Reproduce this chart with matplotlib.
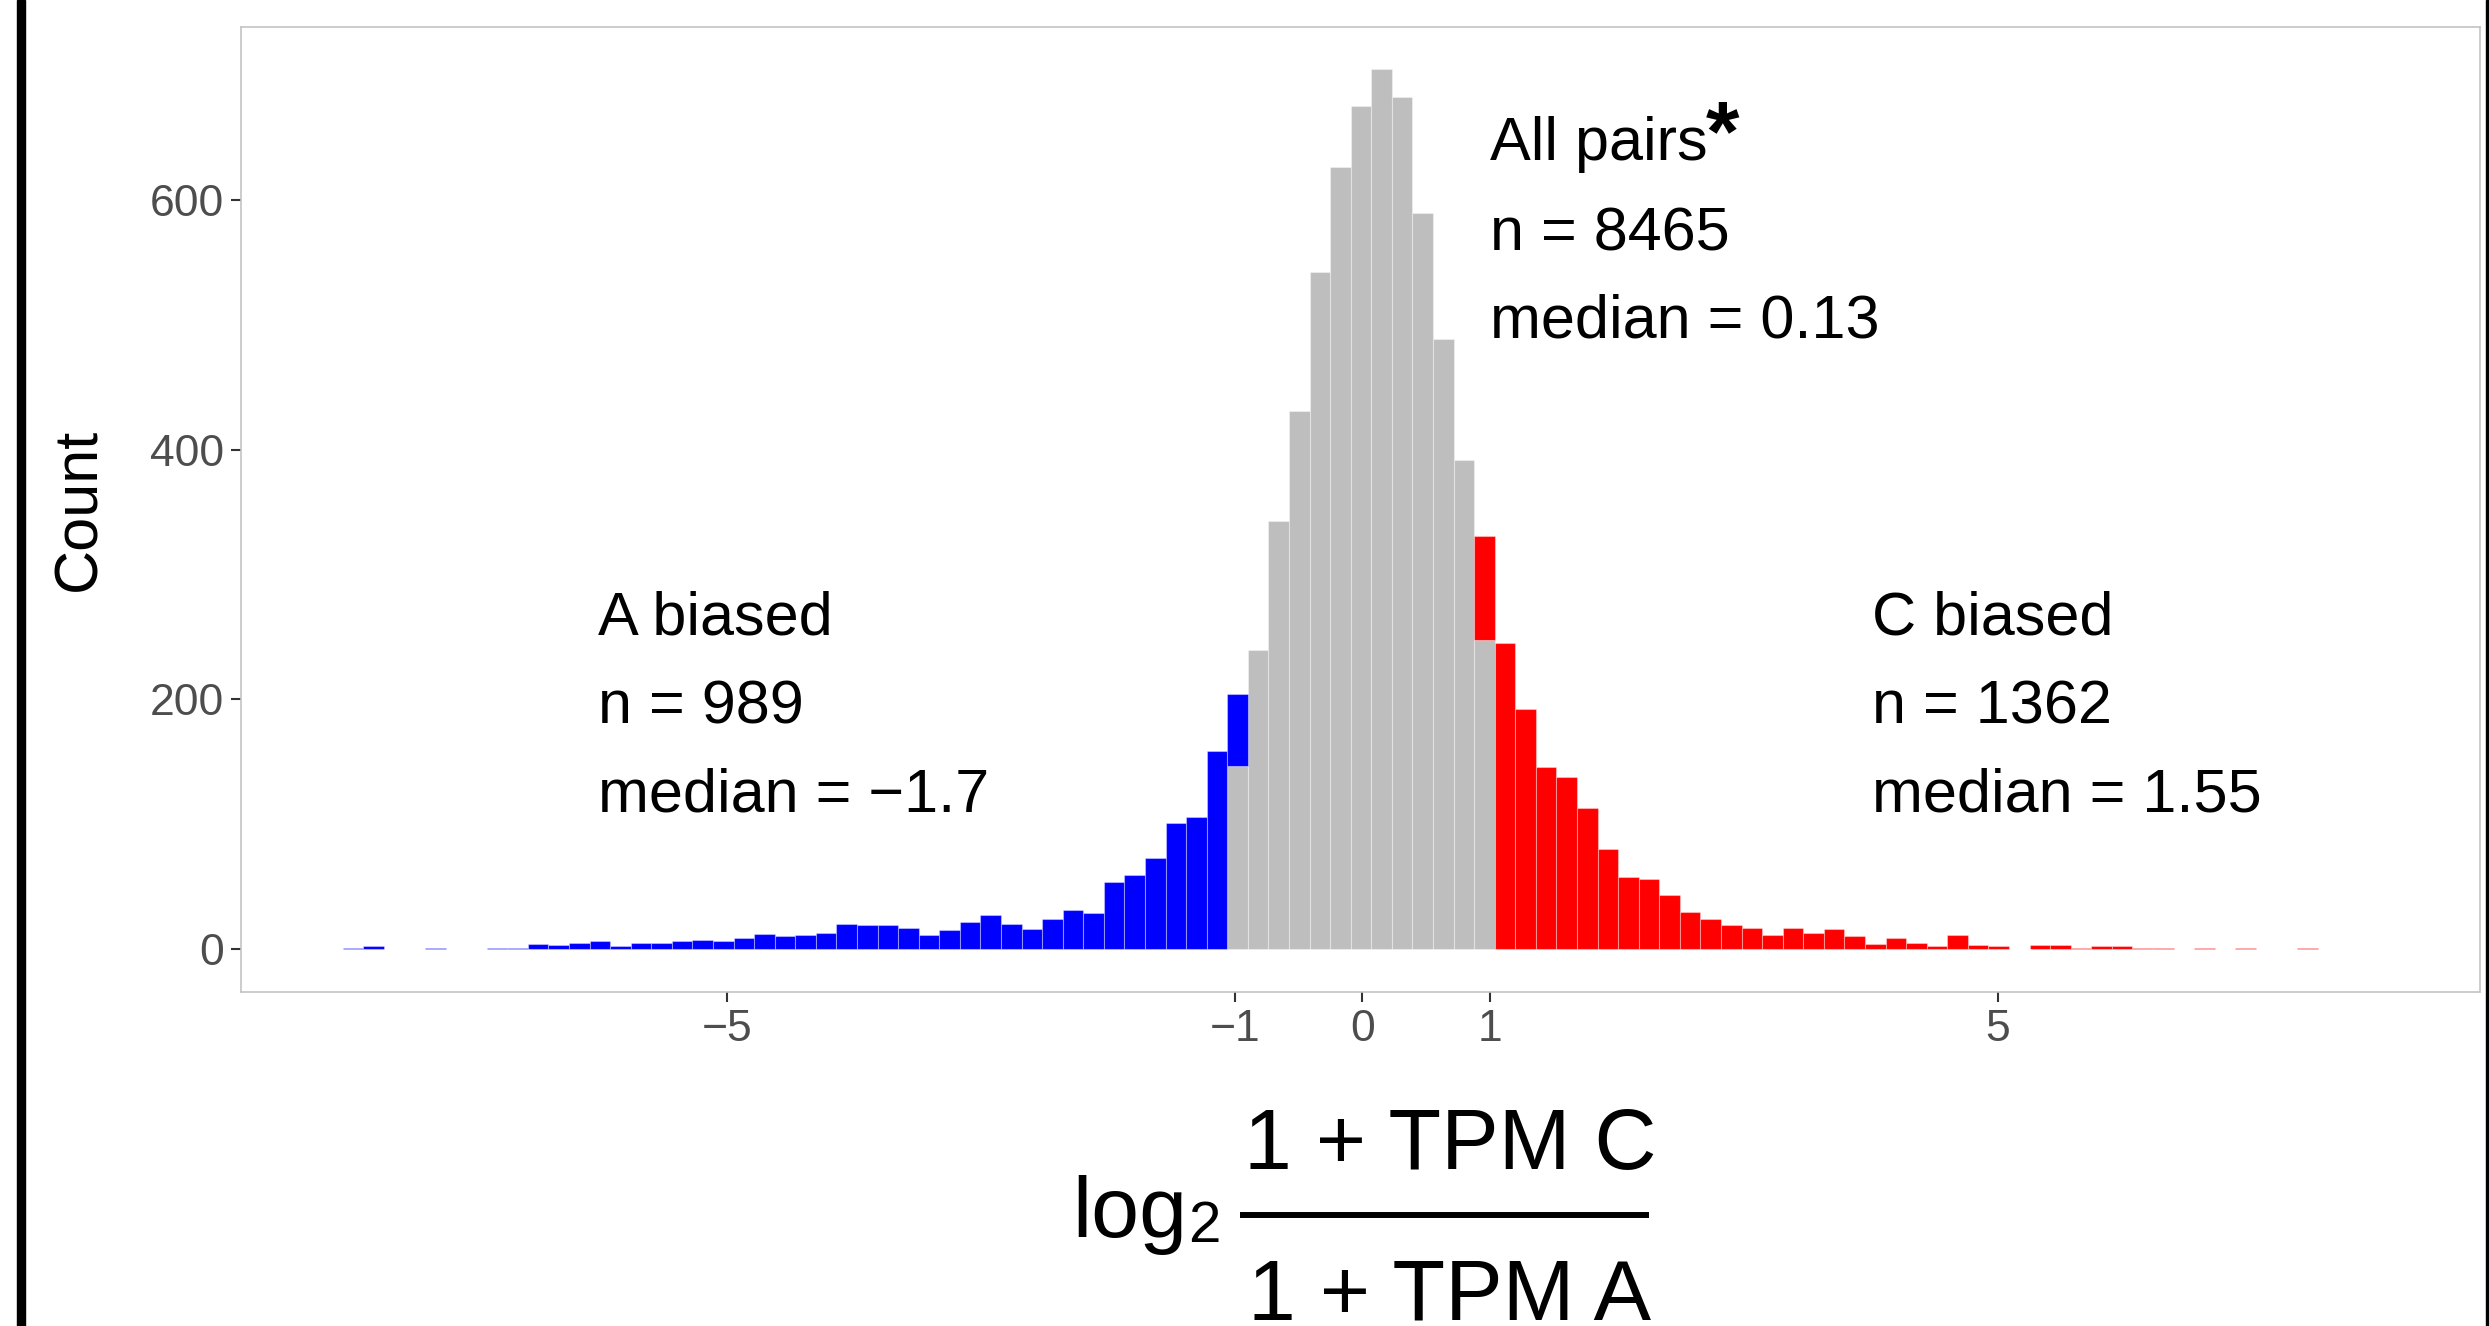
import numpy as np
import matplotlib
matplotlib.use("Agg")
import matplotlib.pyplot as plt
from matplotlib.patches import Rectangle
from matplotlib.lines import Line2D

plt.rcParams['font.family'] = ['Liberation Sans', 'DejaVu Sans']

# histogram bins of log2((1+TPM C)/(1+TPM A))
bin_start = -8.02
bin_width = 0.1618
n_bins = 96

# counts per bin; each group starts at the bin index given by *_first
blue_first = 0
blue_counts = [1, 2, 0, 0, 1, 0, 0, 1, 1, 4, 3, 5, 6, 2, 5, 5, 6, 7, 6, 9,
               12, 10, 11, 13, 20, 19, 19, 17, 11, 15, 22, 27, 20, 16, 24, 31,
               29, 54, 59, 73, 101, 106, 159, 57]
gray_first = 43
gray_counts = [147, 240, 343, 431, 543, 627, 676, 705, 683, 590, 489, 392, 248]
red_first = 55
red_counts = [83, 245, 192, 146, 138, 113, 80, 58, 56, 43, 30, 24, 19, 17, 11,
              17, 13, 16, 10, 4, 9, 5, 2, 11, 3, 2, 0, 3, 3, 1, 2, 2, 1, 1, 0,
              1, 0, 1, 0, 0, 1]

x_ticks = [-5, -1, 0, 1, 5]
x_ticklabels = ['\u22125', '\u22121', '0', '1', '5']
y_ticks = [0, 200, 400, 600]

a_text = ['A biased', 'n = 989', 'median = \u22121.7']
c_text = ['C biased', 'n = 1362', 'median = 1.55']
all_text = ['All pairs', 'n = 8465', 'median = 0.13']


def full(first, vals):
    a = np.zeros(n_bins)
    a[first:first + len(vals)] = vals
    return a


gray = full(gray_first, gray_counts)
blue = full(blue_first, blue_counts)
red = full(red_first, red_counts)
edges = bin_start + bin_width * np.arange(n_bins)

W, H = 2489, 1326
fig = plt.figure(figsize=(W / 100, H / 100), dpi=100)
ax = fig.add_axes([241 / W, 1 - 992 / H, (2480 - 241) / W, (992 - 27) / H])

edge_kw = dict(width=bin_width, align='edge', edgecolor=(1, 1, 1, 0.35), linewidth=0.8)
m = gray > 0
ax.bar(edges[m], gray[m], color='#BEBEBE', **edge_kw)
m = blue > 0
ax.bar(edges[m], blue[m], bottom=gray[m], color='#0000FF', **edge_kw)
m = red > 0
ax.bar(edges[m], red[m], bottom=gray[m], color='#FF0000', **edge_kw)

ax.set_xlim(-8.82, 8.79)
ax.set_ylim(-34.5, 739)
ax.set_xticks(x_ticks)
ax.set_xticklabels(x_ticklabels)
ax.set_yticks(y_ticks)
ax.tick_params(length=7, width=1.5, color='#333333', labelcolor='#4D4D4D',
               labelsize=32, pad=5)
for s in ax.spines.values():
    s.set_color('#C4C4C4')
    s.set_linewidth(1.2)

ax.set_ylabel('Count', fontsize=44, labelpad=30)

fs = 44
for txt, y in zip(a_text, [252, 181, 110]):
    ax.text(-6.01, y, txt, fontsize=fs, va='baseline', ha='left')
for txt, y in zip(c_text, [252, 181, 110]):
    ax.text(4.01, y, txt, fontsize=fs, va='baseline', ha='left')
for txt, y in zip(all_text, [632, 560, 490]):
    ax.text(1.0, y, txt, fontsize=fs, va='baseline', ha='left')
ax.text(2.70, 632, '*', fontsize=62, fontweight='bold', va='baseline', ha='left')

# x-axis title drawn as a fraction
def fx(px):
    return px / W


def fy(py):
    return 1 - py / H


fig.text(fx(1072), fy(1237), 'log', fontsize=62, va='baseline', ha='left')
fig.text(fx(1188), fy(1242), '2', fontsize=42, va='baseline', ha='left')
fig.text(fx(1450), fy(1169), '1 + TPM C', fontsize=62, va='baseline', ha='center')
fig.text(fx(1450), fy(1319), '1 + TPM A', fontsize=62, va='baseline', ha='center')
fig.add_artist(Line2D([fx(1243), fx(1646)], [fy(1215), fy(1215)], color='black',
                      linewidth=4.3, transform=fig.transFigure))

# black frame lines at the figure edges
fig.add_artist(Rectangle((fx(17), 0), 8 / W, 1, color='black', transform=fig.transFigure))
fig.add_artist(Rectangle((fx(2486), 0), 4 / W, 1, color='black', transform=fig.transFigure))

fig.savefig('out.png', dpi=100)
